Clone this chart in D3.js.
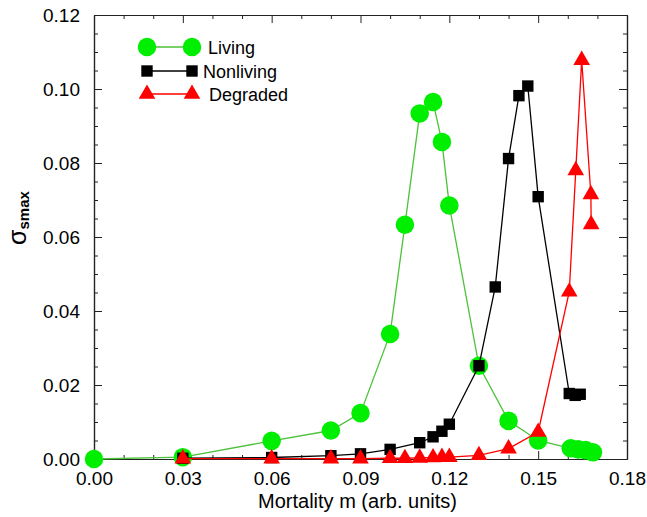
<!DOCTYPE html>
<html>
<head>
<meta charset="utf-8">
<script src="https://cdn.jsdelivr.net/npm/d3@7"></script>
<style>
  html, body { margin: 0; padding: 0; background: #fff; }
  svg { display: block; font-family: "Liberation Sans", Arial, Helvetica, sans-serif; }
</style>
</head>
<body>
<svg id="chart" width="647" height="517"></svg>
<script>
// ---- data ----
const livingX = [0, 0.03, 0.06, 0.08, 0.09, 0.10, 0.105, 0.11, 0.1145, 0.1175, 0.12, 0.13, 0.14, 0.15, 0.161, 0.1635, 0.166, 0.1685];
const livingY = [0, 0.0005, 0.0049, 0.0077, 0.0124, 0.0338, 0.0633, 0.0934, 0.0965, 0.0857, 0.0685, 0.0252, 0.0103, 0.0050, 0.0029, 0.0026, 0.0024, 0.0018];

const nonlivingX = [0.03, 0.06, 0.08, 0.09, 0.10, 0.11, 0.1145, 0.1175, 0.12, 0.13, 0.1355, 0.14, 0.1435, 0.1465, 0.15, 0.1605, 0.1625, 0.1642];
const nonlivingY = [0.0002, 0.0004, 0.0009, 0.0014, 0.0026, 0.0044, 0.0060, 0.0075, 0.0094, 0.0252, 0.0465, 0.0812, 0.0982, 0.1008, 0.0709, 0.0177, 0.0172, 0.0175];

const degradedX = [0.03, 0.06, 0.08, 0.09, 0.10, 0.105, 0.11, 0.1145, 0.1175, 0.12, 0.13, 0.14, 0.15, 0.1605, 0.1627, 0.1647, 0.1678, 0.1679];
const degradedY = [0.0001, 0.0001, 0.0001, 0.0001, 0.0002, 0.0002, 0.0003, 0.0004, 0.0005, 0.0005, 0.0010, 0.0028, 0.0073, 0.0452, 0.0780, 0.1078, 0.0715, 0.0634];

const xTicks = [0, 0.03, 0.06, 0.09, 0.12, 0.15, 0.18];
const yTicks = [0, 0.02, 0.04, 0.06, 0.08, 0.10, 0.12];
const seriesNames = ["Living", "Nonliving", "Degraded"];

// ---- layout ----
const W = 647, H = 517;
const margin = {left: 94, right: 20, top: 15, bottom: 58};
const svg = d3.select("#chart");

const x = d3.scaleLinear().domain([0, 0.18]).range([margin.left, W - margin.right]);
const y = d3.scaleLinear().domain([0, 0.12]).range([H - margin.bottom, margin.top]);

const frameColor = "#222";
const majorLen = 8, minorLen = 4;

// minor tick values
const xMinor = d3.range(0, 0.1801, 0.01).filter(v => !xTicks.some(t => Math.abs(t - v) < 1e-6));
const yMinor = d3.range(0, 0.1201, 0.005).filter(v => !yTicks.some(t => Math.abs(t - v) < 1e-6));

const fmt = d3.format(".2f");

// bottom axis
const gB = svg.append("g").attr("transform", `translate(0,${y(0)})`)
  .call(d3.axisBottom(x).tickValues(xTicks).tickFormat(fmt).tickSizeInner(-majorLen).tickSizeOuter(0).tickPadding(majorLen + 8));
const gBm = svg.append("g").attr("transform", `translate(0,${y(0)})`)
  .call(d3.axisBottom(x).tickValues(xMinor).tickFormat("").tickSizeInner(-minorLen).tickSizeOuter(0));
// top axis
const gT = svg.append("g").attr("transform", `translate(0,${y(0.12)})`)
  .call(d3.axisTop(x).tickValues(xTicks).tickFormat("").tickSizeInner(-majorLen).tickSizeOuter(0));
const gTm = svg.append("g").attr("transform", `translate(0,${y(0.12)})`)
  .call(d3.axisTop(x).tickValues(xMinor).tickFormat("").tickSizeInner(-minorLen).tickSizeOuter(0));
// left axis
const gL = svg.append("g").attr("transform", `translate(${x(0)},0)`)
  .call(d3.axisLeft(y).tickValues(yTicks).tickFormat(fmt).tickSizeInner(-majorLen).tickSizeOuter(0).tickPadding(majorLen + 6));
const gLm = svg.append("g").attr("transform", `translate(${x(0)},0)`)
  .call(d3.axisLeft(y).tickValues(yMinor).tickFormat("").tickSizeInner(-minorLen).tickSizeOuter(0));
// right axis
const gR = svg.append("g").attr("transform", `translate(${x(0.18)},0)`)
  .call(d3.axisRight(y).tickValues(yTicks).tickFormat("").tickSizeInner(-majorLen).tickSizeOuter(0));
const gRm = svg.append("g").attr("transform", `translate(${x(0.18)},0)`)
  .call(d3.axisRight(y).tickValues(yMinor).tickFormat("").tickSizeInner(-minorLen).tickSizeOuter(0));

[gB, gBm, gT, gTm, gL, gLm, gR, gRm].forEach(g => {
  g.selectAll(".domain").attr("stroke", frameColor).attr("stroke-width", 1.2);
  g.selectAll(".tick line").attr("stroke", frameColor).attr("stroke-width", 1);
  g.selectAll(".tick text").attr("fill", "#000").style("font-size", "19px");
});
gB.selectAll(".tick text").attr("dy", "0.5em");
gL.selectAll(".tick text").attr("dy", "0.36em");

// axis titles
svg.append("text")
  .attr("x", (x(0) + x(0.18)) / 2 - 3)
  .attr("y", 508)
  .attr("text-anchor", "middle")
  .style("font-size", "20px")
  .attr("fill", "#000")
  .text("Mortality m (arb. units)");

const yl = svg.append("text")
  .attr("transform", `translate(26,${218}) rotate(-90)`)
  .attr("text-anchor", "middle")
  .attr("fill", "#000");
yl.append("tspan").style("font-size", "25px").text("σ");
yl.append("tspan").attr("dy", 3).style("font-size", "15px").style("font-weight", "bold").text("smax");

// ---- series ----
const series = [
  {name: seriesNames[0], xs: livingX, ys: livingY, line: "#4cc13a", fill: "#00ee00", shape: "circle"},
  {name: seriesNames[1], xs: nonlivingX, ys: nonlivingY, line: "#000", fill: "#000", shape: "square"},
  {name: seriesNames[2], xs: degradedX, ys: degradedY, line: "#ff0000", fill: "#ff0000", shape: "triangle"}
];

const symArea = {circle: 270, square: 130, triangle: 120};
const symType = {circle: d3.symbolCircle, square: d3.symbolSquare, triangle: d3.symbolTriangle};

const lineGen = d3.line().x(d => x(d[0])).y(d => y(d[1]));

series.forEach(s => {
  const pts = s.xs.map((v, i) => [v, s.ys[i]]);
  const g = svg.append("g");
  g.append("path").datum(pts)
    .attr("d", lineGen)
    .attr("fill", "none")
    .attr("stroke", s.line)
    .attr("stroke-width", 1.3);
  g.selectAll("path.m").data(pts).join("path")
    .attr("class", "m")
    .attr("d", d3.symbol().type(symType[s.shape]).size(symArea[s.shape]))
    .attr("transform", d => `translate(${x(d[0])},${y(d[1])})`)
    .attr("fill", s.fill);
});

// ---- legend ----
const legX1 = 147, legX2 = 192;
const legY = [47, 71, 94];
const legTextX = [208, 203, 209];
series.forEach((s, i) => {
  const g = svg.append("g");
  g.append("line").attr("x1", legX1).attr("x2", legX2).attr("y1", legY[i]).attr("y2", legY[i])
    .attr("stroke", s.line).attr("stroke-width", 1.3);
  [legX1, legX2].forEach(px => {
    g.append("path")
      .attr("d", d3.symbol().type(symType[s.shape]).size(symArea[s.shape])())
      .attr("transform", `translate(${px},${legY[i]})`)
      .attr("fill", s.fill);
  });
  g.append("text").attr("x", legTextX[i]).attr("y", legY[i] + 6.5)
    .style("font-size", "18px").attr("fill", "#000").text(s.name);
});
</script>
</body>
</html>
